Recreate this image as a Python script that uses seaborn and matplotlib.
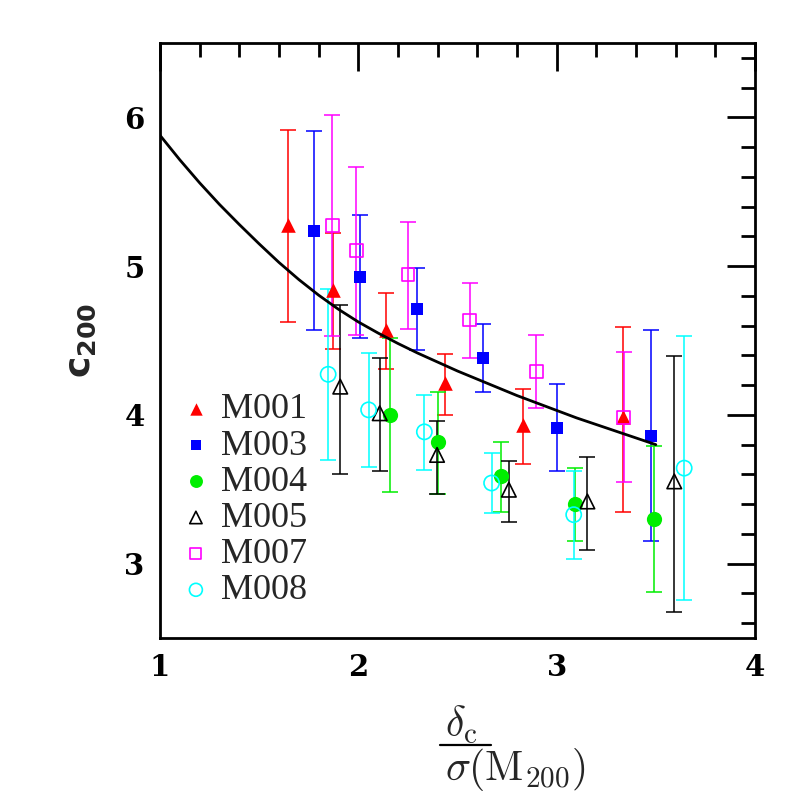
import numpy as np
import matplotlib
matplotlib.use("Agg")
import matplotlib.pyplot as plt
from matplotlib.lines import Line2D
import seaborn as sns

# values
m001_x = [1.648, 1.872, 2.138, 2.439, 2.832, 3.335]
m001_y = [5.275, 4.839, 4.570, 4.213, 3.933, 3.985]
m001_lo = [4.626, 4.443, 4.307, 4.002, 3.667, 3.344]
m001_hi = [5.917, 5.226, 4.821, 4.409, 4.177, 4.593]

m003_x = [1.778, 2.007, 2.296, 2.631, 3.000, 3.478]
m003_y = [5.237, 4.928, 4.711, 4.385, 3.913, 3.861]
m003_lo = [4.573, 4.519, 4.438, 4.157, 3.624, 3.154]
m003_hi = [5.906, 5.342, 4.985, 4.609, 4.206, 4.573]

m004_x = [2.158, 2.402, 2.721, 3.091, 3.491]
m004_y = [4.000, 3.815, 3.586, 3.403, 3.300]
m004_lo = [3.479, 3.470, 3.347, 3.154, 2.810]
m004_hi = [4.520, 4.153, 3.817, 3.644, 3.788]

m005_x = [1.909, 2.108, 2.397, 2.759, 3.155, 3.593]
m005_y = [4.190, 4.011, 3.731, 3.497, 3.418, 3.553]
m005_lo = [3.604, 3.620, 3.470, 3.280, 3.094, 2.678]
m005_hi = [4.740, 4.383, 3.958, 3.689, 3.716, 4.399]

m007_x = [1.869, 1.990, 2.251, 2.562, 2.897, 3.338]
m007_y = [5.275, 5.103, 4.942, 4.638, 4.293, 3.985]
m007_lo = [4.532, 4.537, 4.580, 4.381, 4.047, 3.548]
m007_hi = [6.013, 5.666, 5.298, 4.888, 4.540, 4.420]

m008_x = [1.848, 2.052, 2.333, 2.672, 3.086, 3.643]
m008_y = [4.273, 4.034, 3.886, 3.542, 3.329, 3.642]
m008_lo = [3.698, 3.647, 3.631, 3.340, 3.034, 2.758]
m008_hi = [4.846, 4.414, 4.136, 3.741, 3.626, 4.529]

# model curve
curve_x = [1.0, 1.1, 1.2, 1.3, 1.4, 1.5, 1.6, 1.7, 1.8, 1.9, 2.0, 2.1, 2.2,
           2.3, 2.4, 2.5, 2.6, 2.7, 2.8, 2.9, 3.0, 3.1, 3.2, 3.3, 3.4, 3.5]
curve_y = [5.88, 5.715, 5.56, 5.415, 5.28, 5.15, 5.025, 4.91, 4.805, 4.71,
           4.625, 4.55, 4.48, 4.415, 4.355, 4.295, 4.24, 4.185, 4.13, 4.08,
           4.03, 3.98, 3.935, 3.89, 3.845, 3.80]

series = [
    ("M001", m001_x, m001_y, m001_lo, m001_hi, "red", "^", True, 110),
    ("M003", m003_x, m003_y, m003_lo, m003_hi, "blue", "s", True, 75),
    ("M004", m004_x, m004_y, m004_lo, m004_hi, "#00ee00", "o", True, 120),
    ("M005", m005_x, m005_y, m005_lo, m005_hi, "black", "^", False, 110),
    ("M007", m007_x, m007_y, m007_lo, m007_hi, "magenta", "s", False, 85),
    ("M008", m008_x, m008_y, m008_lo, m008_hi, "cyan", "o", False, 120),
]

sns.set_theme(style="white")
plt.rcParams["font.family"] = ["DejaVu Sans"]
plt.rcParams["mathtext.fontset"] = "cm"

W = H = 797
fig = plt.figure(figsize=(W / 100, H / 100), dpi=100)
ax = fig.add_axes([0.2007, 0.1995, 0.7466, 0.7465])

for name, xs, ys, lo, hi, col, mk, filled, size in series:
    xs = np.array(xs)
    ys = np.array(ys)
    err = [ys - np.array(lo), np.array(hi) - ys]
    ax.errorbar(xs, ys, yerr=err, fmt="none", ecolor=col, elinewidth=1.1,
                capsize=5.5, capthick=1.1, zorder=2)
    if filled:
        sns.scatterplot(x=xs, y=ys, marker=mk, s=size, color=col,
                        edgecolor=col, linewidth=0, ax=ax, label=name, zorder=3)
    else:
        sns.scatterplot(x=xs, y=ys, marker=mk, s=size, facecolor="none",
                        edgecolor=col, linewidth=1.2, ax=ax, label=name, zorder=3)

sns.lineplot(x=curve_x, y=curve_y, color="black", linewidth=2.0, ax=ax,
             sort=False, zorder=4)

ax.set_xlim(1, 4)
ax.set_ylim(2.5, 6.5)
ax.set_xticks([1, 2, 3, 4])
ax.set_yticks([3, 4, 5, 6])
ax.set_xticks(np.arange(1, 4.01, 0.2), minor=True)
ax.set_yticks(np.arange(2.6, 6.41, 0.2), minor=True)
ax.tick_params(which="both", direction="in", top=True, right=True, width=2,
               colors="black")
ax.tick_params(which="major", length=20, labelsize=21, pad=11)
ax.tick_params(which="minor", length=10)
for lab in ax.get_xticklabels() + ax.get_yticklabels():
    lab.set_fontfamily("DejaVu Serif")
    lab.set_fontweight("bold")
for sp in ax.spines.values():
    sp.set_linewidth(2)
    sp.set_color("black")

# x label drawn like the original: short fraction bar under the numerator
fig.text(445 / W, 1 - 737 / H, r"$\delta_{\rm c}$", fontsize=30,
         ha="left", va="baseline")
fig.add_artist(Line2D([440 / W, 491 / W], [1 - 745 / H, 1 - 745 / H],
                      transform=fig.transFigure, color="black", linewidth=1.6))
fig.text(445 / W, 1 - 780 / H, r"$\sigma(\rm M_{200})$", fontsize=30,
         ha="left", va="baseline")

ylab = ax.set_ylabel(r"$\mathbf{c}_{\mathbf{200}}$", fontsize=26, labelpad=19)
ylab.set_math_fontfamily("dejavusans")

leg = ax.legend(loc="upper left", bbox_to_anchor=(-0.0185, 0.454), frameon=False,
                prop={"family": "Liberation Serif", "size": 26},
                handletextpad=0.1, labelspacing=0.08, borderpad=0.2,
                handlelength=1.2, markerscale=0.85)

fig.savefig("out.png", dpi=100)
